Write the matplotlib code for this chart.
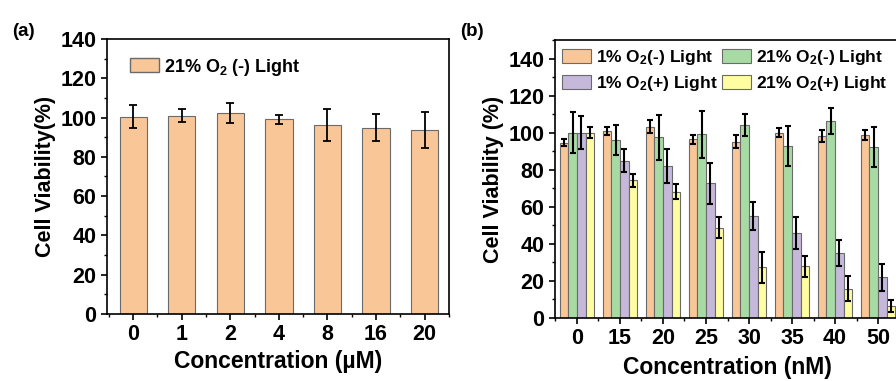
import matplotlib
matplotlib.use('Agg')
import matplotlib.pyplot as plt
import matplotlib.patches as mpatches
from matplotlib.ticker import MultipleLocator
import numpy as np

plt.rcParams['font.family'] = 'Liberation Sans'
plt.rcParams['font.weight'] = 'bold'
plt.rcParams['mathtext.fontset'] = 'custom'
plt.rcParams['mathtext.rm'] = 'Liberation Sans:bold'
plt.rcParams['mathtext.bf'] = 'Liberation Sans:bold'
plt.rcParams['mathtext.default'] = 'bf'

# panel (a)
conc_a = ['0', '1', '2', '4', '8', '16', '20']
via_a = [100.5, 100.9, 102.4, 99.2, 96.1, 94.9, 93.5]
err_a = [6.0, 3.4, 5.1, 2.3, 8.2, 6.9, 9.1]

# panel (b)
conc_b = ['0', '15', '20', '25', '30', '35', '40', '50']
o1_dark = [94.6, 100.9, 103.2, 96.4, 95.1, 100.0, 98.4, 98.7]
o1_dark_err = [1.8, 2.2, 3.4, 2.4, 3.4, 2.6, 3.3, 2.9]
o21_dark = [100.0, 96.0, 97.5, 99.1, 104.1, 93.0, 106.3, 92.1]
o21_dark_err = [11.0, 8.3, 12.0, 12.7, 6.0, 10.8, 7.2, 10.8]
o1_light = [100.0, 84.9, 82.0, 72.7, 55.1, 45.8, 35.0, 21.9]
o1_light_err = [9.0, 6.2, 9.0, 11.0, 7.4, 8.6, 7.2, 7.4]
o21_light = [100.0, 74.3, 68.2, 48.8, 27.3, 27.8, 15.8, 6.6]
o21_light_err = [3.0, 3.4, 4.0, 5.6, 8.5, 5.7, 6.7, 3.3]

c_orange = '#F9C698'
c_green = '#A8DBA4'
c_purple = '#C5B8DA'
c_yellow = '#FFFDA2'
edge = '#6a6a6a'

fig = plt.figure(figsize=(8.96, 3.81), dpi=100)
ax1 = fig.add_axes([0.1194, 0.1759, 0.3816, 0.7217])
ax2 = fig.add_axes([0.6194, 0.1654, 0.3851, 0.7296])

# (a)
x = np.arange(len(conc_a))
ax1.bar(x, via_a, width=0.56, color=c_orange, edgecolor=edge, linewidth=0.8)
ax1.errorbar(x, via_a, yerr=err_a, fmt='none', ecolor='black', elinewidth=1.3,
             capsize=3, capthick=1.3)
ax1.set_xlim(-0.54, 6.5)
ax1.set_ylim(0, 140)
ax1.set_xticks(x)
ax1.set_xticklabels(conc_a)
ax1.set_yticks(np.arange(0, 141, 20))
ax1.set_ylabel('Cell Viability(%)', fontsize=15.5, fontweight='bold', labelpad=3)
ax1.set_xlabel('Concentration (µM)', fontsize=16.5, fontweight='bold', labelpad=3)
h = mpatches.Patch(facecolor=c_orange, edgecolor=edge, label='21% O$_2$ (-) Light')
ax1.legend(handles=[h], loc='upper left', bbox_to_anchor=(0.02, 0.995), frameon=False,
           fontsize=13, handlelength=1.6, handleheight=0.8, handletextpad=0.3)

# (b)
xb = np.arange(len(conc_b))
w = 0.2
series = [(o1_dark, o1_dark_err, c_orange, '1% O$_2$(-) Light'),
          (o21_dark, o21_dark_err, c_green, '21% O$_2$(-) Light'),
          (o1_light, o1_light_err, c_purple, '1% O$_2$(+) Light'),
          (o21_light, o21_light_err, c_yellow, '21% O$_2$(+) Light')]
handles = []
for i, (vals, errs, col, lab) in enumerate(series):
    pos = xb + (i - 1.5) * w
    b = ax2.bar(pos, vals, width=w, color=col, edgecolor=edge, linewidth=0.8, label=lab)
    ax2.errorbar(pos, vals, yerr=errs, fmt='none', ecolor='black', elinewidth=1.5,
                 capsize=2.5, capthick=1.5)
    handles.append(b)
ax2.set_xlim(-0.51, 7.51)
ax2.set_ylim(0, 150)
ax2.set_xticks(xb)
ax2.set_xticklabels(conc_b)
ax2.set_yticks(np.arange(0, 141, 20))
ax2.set_ylabel('Cell Viability (%)', fontsize=15.5, fontweight='bold', labelpad=3)
ax2.set_xlabel('Concentration (nM)', fontsize=16.5, fontweight='bold', labelpad=5)
ax2.legend(handles=[handles[0], handles[2], handles[1], handles[3]], ncol=2,
           loc='upper left', bbox_to_anchor=(-0.015, 1.015), frameon=False, fontsize=12.5,
           handlelength=1.7, handleheight=0.85, handletextpad=0.25, columnspacing=0.25,
           labelspacing=0.42, borderaxespad=0.3, borderpad=0.4)

for ax in (ax1, ax2):
    for s in ax.spines.values():
        s.set_linewidth(1.2)
    ax.yaxis.set_minor_locator(MultipleLocator(10))
    ax.xaxis.set_minor_locator(MultipleLocator(0.5))
    ax.tick_params(which='major', direction='out', length=4, width=1.2, labelsize=15.5,
                   top=False, right=False)
    ax.tick_params(which='minor', direction='out', length=2, width=1.0,
                   top=False, right=False)
    for lab in ax.get_xticklabels() + ax.get_yticklabels():
        lab.set_fontweight('bold')

fig.text(0.013, 0.905, '(a)', fontsize=13.5, fontweight='bold')
fig.text(0.513, 0.905, '(b)', fontsize=13.5, fontweight='bold')

fig.savefig('out.png', dpi=100)
